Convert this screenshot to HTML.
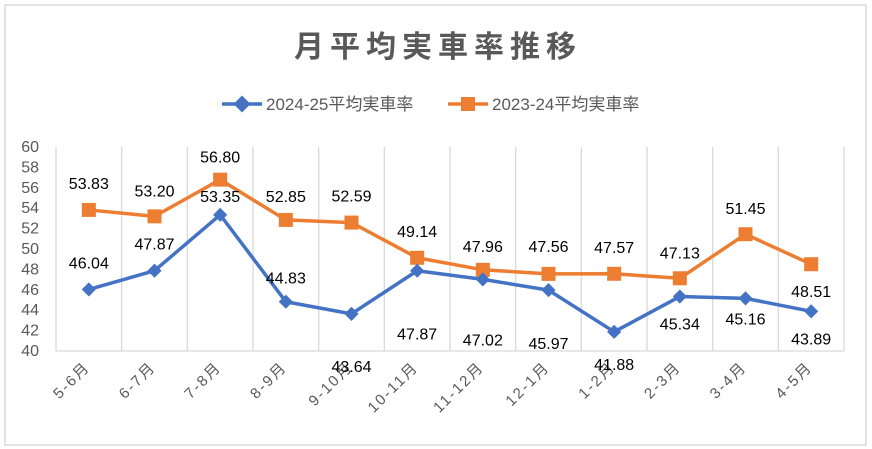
<!DOCTYPE html>
<html><head><meta charset="utf-8"><style>
body{margin:0;background:#fff;}
svg{display:block;font-family:"Liberation Sans","Noto Sans CJK JP",sans-serif;}
</style></head><body>
<svg id="chart" width="872" height="449">
<rect x="5" y="5" width="861" height="440" fill="#fff" stroke="#d9d9d9" stroke-width="1.5"/>
<text x="438" y="57" text-anchor="middle" font-size="30" font-weight="bold" fill="#595959" letter-spacing="6">月平均実車率推移</text>
<g>
 <g>
  <line x1="222" y1="104" x2="262" y2="104" stroke="#4472c4" stroke-width="3.5"/>
  <rect x="236" y="98" width="12" height="12" fill="#4472c4" transform="rotate(45 242 104)"/>
  <text x="266" y="110" font-size="17" fill="#595959">2024-25平均実車率</text>
 </g>
 <g>
  <line x1="448" y1="104" x2="488" y2="104" stroke="#ed7d31" stroke-width="3.5"/>
  <rect x="461" y="97" width="14" height="14" fill="#ed7d31"/>
  <text x="492" y="110" font-size="17" fill="#595959">2023-24平均実車率</text>
 </g>
</g>
<g id="grid"></g><g id="axes"></g><g id="series"></g><g id="labels"></g>
</svg>
<script>
const categories=["5-6月","6-7月","7-8月","8-9月","9-10月","10-11月","11-12月","12-1月","1-2月","2-3月","3-4月","4-5月"];
const series2024=[46.04,47.87,53.35,44.83,43.64,47.87,47.02,45.97,41.88,45.34,45.16,43.89];
const series2023=[53.83,53.20,56.80,52.85,52.59,49.14,47.96,47.56,47.57,47.13,51.45,48.51];
const yTicks=[40,42,44,46,48,50,52,54,56,58,60];
const dy2024=[-27,-27,-19,-24,52,63,60,53,32,27,20,27];
const dy2023=[-27,-26,-23,-24,-27,-27,-24,-28,-27,-26,-26,27];
const L=56,R=844,T=147,B=351,yMin=40,yMax=60;
const bw=(R-L)/categories.length;
const x=i=>L+bw*(i+0.5);
const y=v=>B-(v-yMin)/(yMax-yMin)*(B-T);
const NS="http://www.w3.org/2000/svg";
function mk(tag,attrs,parent){const e=document.createElementNS(NS,tag);for(const k in attrs)e.setAttribute(k,attrs[k]);document.getElementById(parent).appendChild(e);return e;}
for(let i=0;i<=categories.length;i++){
 const g=mk('line',{x1:L+bw*i,x2:L+bw*i,y1:T,y2:B,stroke:'#d9d9d9','stroke-width':1.3},'grid');
 
 
}
const ax=mk('line',{x1:L,x2:R,y1:B,y2:B,stroke:'#d9d9d9','stroke-width':1.3},'axes');


yTicks.forEach(v=>{
 const t=mk('text',{x:L-17,y:y(v)+5,'text-anchor':'end','font-size':16,fill:'#595959'},'axes');
 t.textContent=v;
 
 
});
categories.forEach((c,i)=>{
 const tx=x(i)+2, ty=B+17;
 const t=mk('text',{x:tx,y:ty,'text-anchor':'end','font-size':15,'letter-spacing':2,fill:'#595959',transform:`rotate(-45 ${tx} ${ty})`},'axes');
 t.textContent=c;
 
 
});
function draw(data,color,shape,dys,name){
 const p=mk('polyline',{points:data.map((v,i)=>x(i)+','+y(v)).join(' '),fill:'none',stroke:color,'stroke-width':3.5,'stroke-linejoin':'round'},'series');
 
 
 data.forEach((v,i)=>{
  let m;
  if(shape==='d') m=mk('rect',{x:x(i)-5,y:y(v)-5,width:10,height:10,fill:color,transform:`rotate(45 ${x(i)} ${y(v)})`},'series');
  else m=mk('rect',{x:x(i)-7,y:y(v)-7,width:14,height:14,fill:color},'series');
  
  
  const t=mk('text',{x:x(i),y:y(v)+dys[i]+6,'text-anchor':'middle','font-size':16,fill:'#000'},'labels');
  t.textContent=v.toFixed(2);
  
  
 });
}
draw(series2023,'#ed7d31','s',dy2023,'series-2023-24');
draw(series2024,'#4472c4','d',dy2024,'series-2024-25');
</script>
</body></html>
